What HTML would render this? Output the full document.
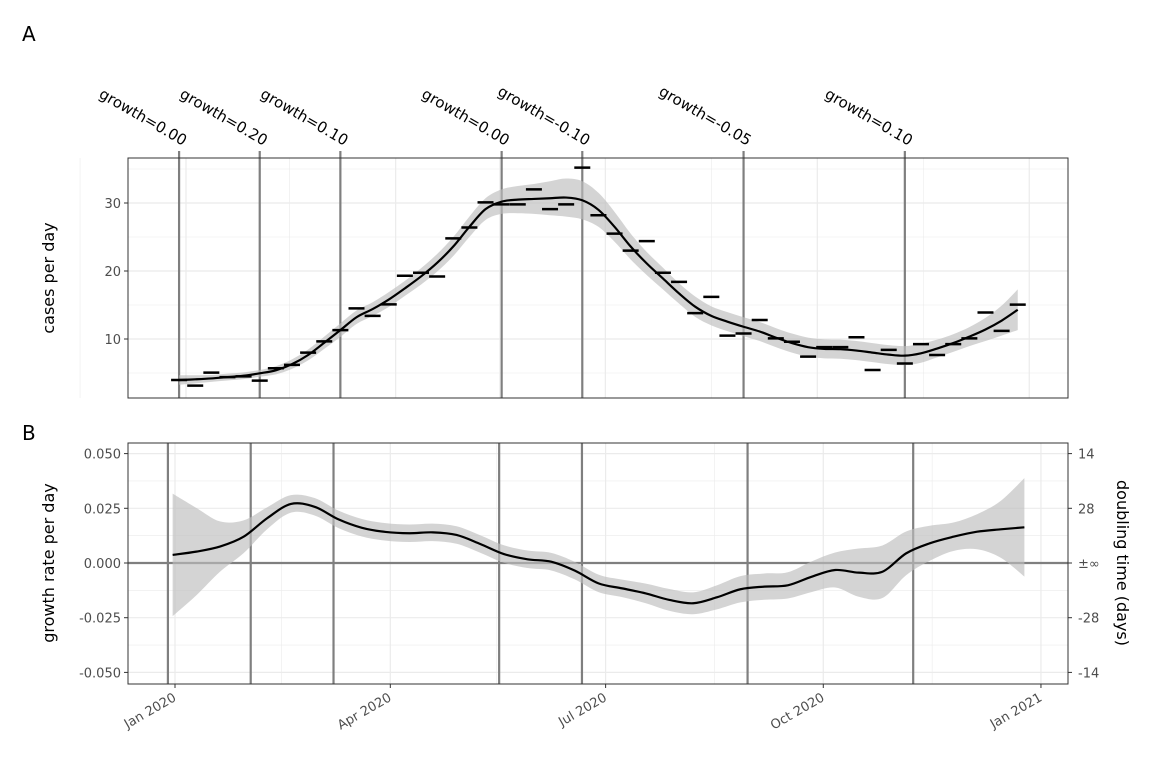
<!DOCTYPE html>
<html><head><meta charset="utf-8"><style>
body{margin:0;background:#fff}
svg{display:block;font-family:"DejaVu Sans","Liberation Sans",sans-serif}
</style></head><body>
<svg id="chart" width="1152" height="768" xmlns="http://www.w3.org/2000/svg"></svg>
<script>
// ---- data ----
const weekDays = Array.from({length:53},(_,i)=>-3+7*i);
const casesObserved = [3.97,3.14,5.05,4.4,4.5,3.87,5.7,6.2,8.0,9.65,11.3,14.5,13.4,15.1,19.3,19.75,19.2,24.8,26.4,30.1,29.8,29.8,32.0,29.1,29.8,35.2,28.2,25.5,23.0,24.4,19.75,18.4,13.8,16.2,10.5,10.8,12.8,10.1,9.6,7.4,8.8,8.8,10.25,5.45,8.4,6.4,9.25,7.65,9.25,10.1,13.9,11.2,15.05];
const casesFit = [3.97,4.07,4.2,4.4,4.6,4.95,5.4,6.3,7.65,9.45,11.3,13.2,14.4,15.8,17.45,19.2,21.2,23.6,26.5,29.1,30.2,30.5,30.6,30.7,30.8,30.4,29.0,26.5,23.6,21.1,18.9,16.7,14.75,13.4,12.55,11.8,11.1,10.2,9.4,8.8,8.55,8.5,8.3,8.0,7.7,7.55,7.9,8.6,9.4,10.35,11.4,12.7,14.3];
const casesHalfWidth = [0.7,0.6,0.5,0.5,0.5,0.5,0.6,0.7,0.8,0.9,1.0,1.0,1.0,1.1,1.1,1.2,1.3,1.4,1.5,1.6,1.8,2.0,2.2,2.5,2.8,2.8,2.5,2.2,1.9,1.7,1.6,1.5,1.5,1.4,1.4,1.4,1.4,1.4,1.4,1.4,1.4,1.4,1.4,1.4,1.4,1.4,1.4,1.3,1.3,1.4,1.7,2.2,3.0];
const growthDays = Array.from({length:37},(_,i)=>-1+10*i);
const growthFit = [0.0037,0.0052,0.0075,0.012,0.0205,0.027,0.0257,0.020,0.0161,0.0142,0.0136,0.014,0.0128,0.0087,0.0041,0.0017,0.0006,-0.0035,-0.0093,-0.0116,-0.0139,-0.0169,-0.0184,-0.0157,-0.012,-0.0108,-0.0102,-0.0063,-0.0032,-0.0044,-0.004,0.0044,0.009,0.012,0.0143,0.0154,0.0163];
const growthHalfWidth = [0.028,0.02,0.0115,0.0075,0.005,0.004,0.004,0.004,0.004,0.004,0.004,0.004,0.004,0.004,0.004,0.004,0.004,0.004,0.004,0.004,0.0045,0.005,0.005,0.0055,0.006,0.006,0.006,0.007,0.008,0.011,0.012,0.01,0.008,0.0065,0.008,0.013,0.0225];
const changeDays = [-3,32,67,137,172,242,312];
const changeLabels = ["growth=0.00","growth=0.20","growth=0.10","growth=0.00","growth=-0.10","growth=-0.05","growth=0.10"];
const casesTicks = [10,20,30];
const growthTicks = [-0.05,-0.025,0,0.025,0.05];
const growthTickLabels = ["-0.050","-0.025","0.000","0.025","0.050"];
const doublingTickLabels = ["-14","-28","±∞","28","14"];
const monthDays = [0,91,182,274,366];
const monthLabels = ["Jan 2020","Apr 2020","Jul 2020","Oct 2020","Jan 2021"];

// ---- scales ----
const A = {l:128,r:1068,t:158,b:398};
const B = {l:128,r:1068,t:443,b:684};
const xA = d => 186 + d*2.304;
const yA = v => 407 - v*6.8;
const xB = d => 175 + d*2.366;
const yB = v => 563 - v*2188;

const svg = document.getElementById('chart');
const NS='http://www.w3.org/2000/svg';
function mk(tag, attrs, parent){const e=document.createElementNS(NS,tag);for(const k in attrs)e.setAttribute(k,attrs[k]);(parent||svg).appendChild(e);return e;}
function smooth(pts){let d='M'+pts[0][0]+','+pts[0][1];for(let i=0;i<pts.length-1;i++){const p0=pts[Math.max(0,i-1)],p1=pts[i],p2=pts[i+1],p3=pts[Math.min(pts.length-1,i+2)];d+=' C'+(p1[0]+(p2[0]-p0[0])/6)+','+(p1[1]+(p2[1]-p0[1])/6)+' '+(p2[0]-(p3[0]-p1[0])/6)+','+(p2[1]-(p3[1]-p1[1])/6)+' '+p2[0]+','+p2[1];}return d;}
function ribbon(xs,ys,hw,xf,yf){const up=xs.map((d,i)=>[xf(d),yf(ys[i]+hw[i])]);const lo=xs.map((d,i)=>[xf(d),yf(ys[i]-hw[i])]).reverse();return smooth(up)+' L'+smooth(lo).slice(1)+' Z';}

// ---- Panel A ----
const gA = mk('g',{});


[5,15,25,35].forEach(v=>{const l=mk('line',{x1:A.l,x2:A.r,y1:yA(v),y2:yA(v),stroke:'#ebebeb','stroke-width':0.6},gA);});
[-46,45,136,228,320].forEach(d=>{const l=mk('line',{x1:xA(d),x2:xA(d),y1:A.t,y2:A.b,stroke:'#ebebeb','stroke-width':0.6},gA);});
casesTicks.forEach(v=>{const l=mk('line',{x1:A.l,x2:A.r,y1:yA(v),y2:yA(v),stroke:'#ebebeb','stroke-width':1.2},gA);});
monthDays.forEach(d=>{const l=mk('line',{x1:xA(d),x2:xA(d),y1:A.t,y2:A.b,stroke:'#ebebeb','stroke-width':1.2},gA);});
changeDays.forEach((d,i)=>{
  const l=mk('line',{x1:xA(d),x2:xA(d),y1:151,y2:A.b,stroke:'#7f7f7f','stroke-width':2.2},gA);
  
  
  const t=mk('text',{x:xA(d)+4,y:146,'font-size':15,'text-anchor':'end',fill:'#000',transform:'rotate(30 '+(xA(d)+4)+' 146)'},gA);
  t.textContent=changeLabels[i];
  
  
});
const rA=mk('path',{d:ribbon(weekDays,casesFit,casesHalfWidth,xA,yA),fill:'#bdbdbd','fill-opacity':0.65},gA);


const fA=mk('path',{d:smooth(weekDays.map((d,i)=>[xA(d),yA(casesFit[i])])),fill:'none',stroke:'#000','stroke-width':2.2},gA);


weekDays.forEach((d,i)=>{const l=mk('line',{x1:xA(d)-8,x2:xA(d)+8,y1:yA(casesObserved[i]),y2:yA(casesObserved[i]),stroke:'#000','stroke-width':2.5},gA);});
const bA=mk('rect',{x:A.l,y:A.t,width:A.r-A.l,height:A.b-A.t,fill:'none',stroke:'#333','stroke-width':1},gA);


casesTicks.forEach(v=>{
  const tk=mk('line',{x1:A.l-4,x2:A.l,y1:yA(v),y2:yA(v),stroke:'#333','stroke-width':1},gA);
  
  
  const t=mk('text',{x:A.l-7,y:yA(v)+5,'font-size':13,'text-anchor':'end',fill:'#4d4d4d'},gA);
  t.textContent=String(v);
  
  
});
const tA=mk('text',{x:54,y:278,'font-size':16,'text-anchor':'middle',fill:'#000',transform:'rotate(-90 54 278)'},gA);
tA.textContent='cases per day';



// ---- Panel B ----
const gB = mk('g',{});


[-0.0375,-0.0125,0.0125,0.0375].forEach(v=>{const l=mk('line',{x1:B.l,x2:B.r,y1:yB(v),y2:yB(v),stroke:'#ebebeb','stroke-width':0.6},gB);});
[45,136,228,320].forEach(d=>{const l=mk('line',{x1:xB(d),x2:xB(d),y1:B.t,y2:B.b,stroke:'#ebebeb','stroke-width':0.6},gB);});
growthTicks.forEach(v=>{const l=mk('line',{x1:B.l,x2:B.r,y1:yB(v),y2:yB(v),stroke:'#ebebeb','stroke-width':1.2},gB);});
monthDays.forEach(d=>{const l=mk('line',{x1:xB(d),x2:xB(d),y1:B.t,y2:B.b,stroke:'#ebebeb','stroke-width':1.2},gB);});
changeDays.forEach(d=>{const l=mk('line',{x1:xB(d),x2:xB(d),y1:B.t,y2:B.b,stroke:'#7f7f7f','stroke-width':2.2},gB);});
const z=mk('line',{x1:B.l,x2:B.r,y1:yB(0),y2:yB(0),stroke:'#7f7f7f','stroke-width':2.2},gB);


const rB=mk('path',{d:ribbon(growthDays,growthFit,growthHalfWidth,xB,yB),fill:'#bdbdbd','fill-opacity':0.65},gB);


const fB=mk('path',{d:smooth(growthDays.map((d,i)=>[xB(d),yB(growthFit[i])])),fill:'none',stroke:'#000','stroke-width':2.2},gB);


const bB=mk('rect',{x:B.l,y:B.t,width:B.r-B.l,height:B.b-B.t,fill:'none',stroke:'#333','stroke-width':1},gB);


growthTicks.forEach((v,i)=>{
  const tk=mk('line',{x1:B.l-4,x2:B.l,y1:yB(v),y2:yB(v),stroke:'#333','stroke-width':1},gB);
  
  
  const t=mk('text',{x:B.l-7,y:yB(v)+5,'font-size':13,'text-anchor':'end',fill:'#4d4d4d'},gB);
  t.textContent=growthTickLabels[i];
  
  
  const tk2=mk('line',{x1:B.r,x2:B.r+4,y1:yB(v),y2:yB(v),stroke:'#333','stroke-width':1},gB);
  
  
  const t2=mk('text',{x:B.r+10,y:yB(v)+5,'font-size':13,'text-anchor':'start',fill:'#4d4d4d'},gB);
  t2.textContent=doublingTickLabels[i];
  
  
});
monthDays.forEach((d,i)=>{
  const tk=mk('line',{x1:xB(d),x2:xB(d),y1:B.b,y2:B.b+4,stroke:'#333','stroke-width':1},gB);
  
  
  const x=xB(d)+2,y=B.b+16;
  const t=mk('text',{x:x,y:y,'font-size':13,'text-anchor':'end',fill:'#4d4d4d',transform:'rotate(-30 '+x+' '+y+')'},gB);
  t.textContent=monthLabels[i];
  
  
});
const tB=mk('text',{x:54,y:563,'font-size':16,'text-anchor':'middle',fill:'#000',transform:'rotate(-90 54 563)'},gB);
tB.textContent='growth rate per day';


const tB2=mk('text',{x:1117,y:563,'font-size':16,'text-anchor':'middle',fill:'#000',transform:'rotate(90 1117 563)'},gB);
tB2.textContent='doubling time (days)';



const la=mk('text',{x:22,y:41,'font-size':20,fill:'#000'});
la.textContent='A';


const lb=mk('text',{x:22,y:440,'font-size':20,fill:'#000'});
lb.textContent='B';


</script>
</body></html>
